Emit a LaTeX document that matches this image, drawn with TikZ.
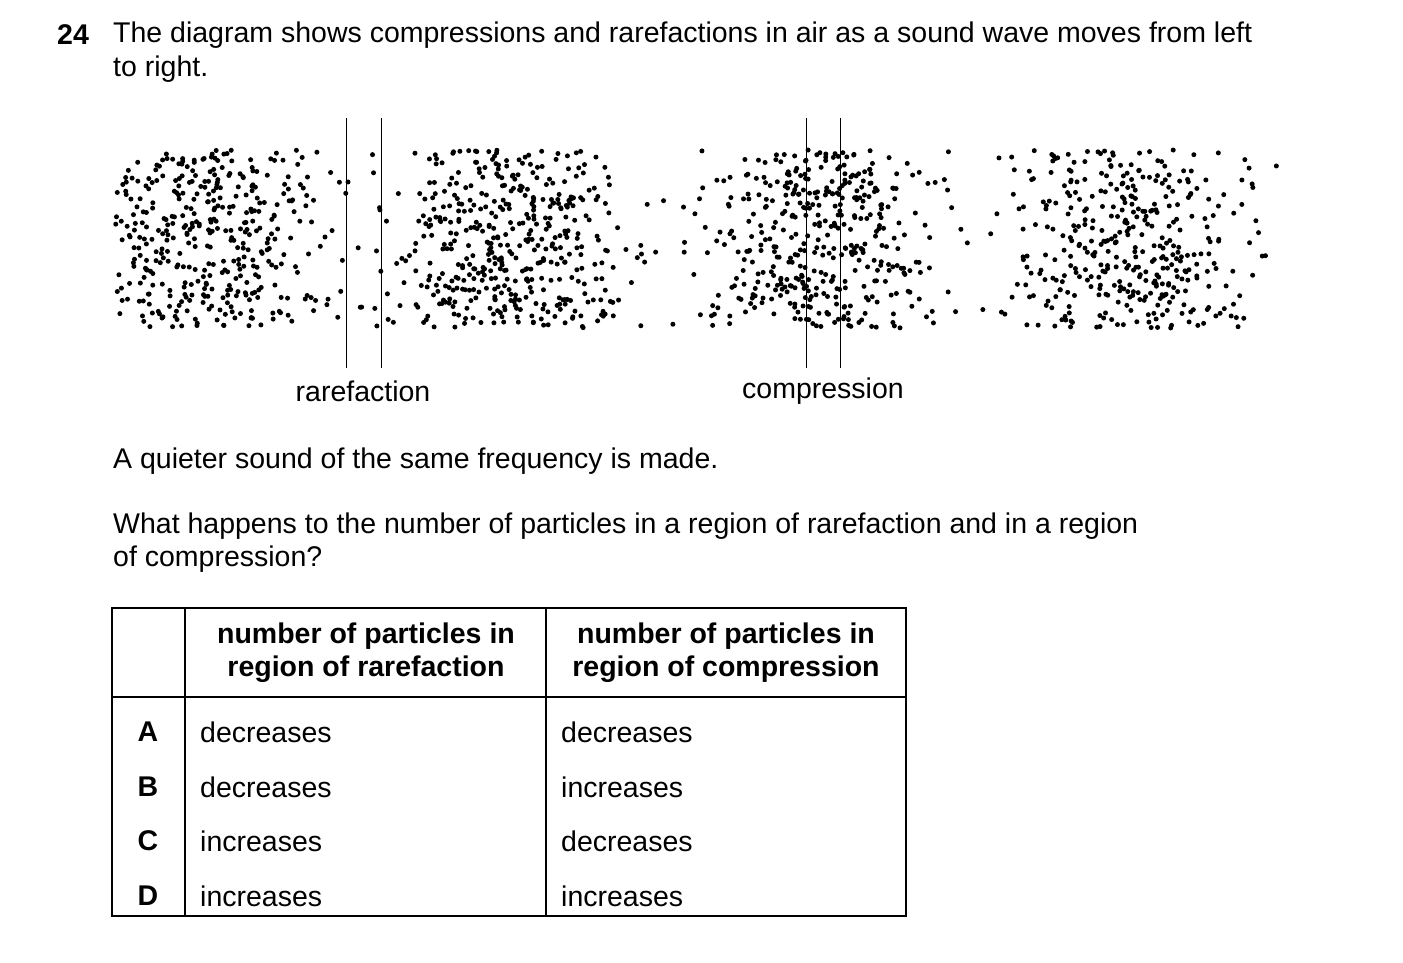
\documentclass[tikz,border=0pt]{standalone}
\usepackage{fontspec}
\setmainfont{Liberation Sans}
\usetikzlibrary{positioning}

\begin{document}
\begin{tikzpicture}[x=1pt,y=-1pt,
        txt/.style={anchor=west,inner sep=0pt,font=\fontsize{28.5}{33}\selectfont},
        hd/.style={align=center,inner sep=0pt,font=\fontsize{28.5}{33}\selectfont\bfseries},
        lbl/.style={inner sep=0pt,font=\fontsize{28.5}{33}\selectfont\bfseries},
        grid/.style={line width=1.2pt}]
        \useasboundingbox (0,0) rectangle (1403,963);

        \node[lbl,anchor=west] (num) at (57,35) {24};
        \node[txt] (t1) at (113,35) {The diagram shows compressions and rarefactions in air as a sound wave moves from left};
        \node[txt] (t2) at (113,69) {to right.};

        % particles
        \pgfmathsetseed{24}
        \foreach \i in {1,...,3000}{
            \pgfmathsetmacro\px{115+1175*rnd}
            \pgfmathsetmacro\py{150+178*rnd}
            \pgfmathsetmacro\pd{0.06+0.94*(0.5+0.5*cos((\px-200)*1.16129))}
            \pgfmathtruncatemacro\ok{rnd<\pd}
            \ifnum\ok=1 \fill (\px,\py) circle (2.5); \fi
        }

        \draw (346,118) -- (346,368);
        \draw (381,118) -- (381,368);
        \draw (806,118) -- (806,368);
        \draw (840,118) -- (840,368);
        \node[txt,anchor=center] (rare) at (363,391) {rarefaction};
        \node[txt,anchor=center] (comp) at (823,391) {compression};

        \node[txt] (q1) at (113,461) {A quieter sound of the same frequency is made.};
        \node[txt] (q2) at (113,526) {What happens to the number of particles in a region of rarefaction and in a region};
        \node[txt] (q3) at (113,559) {of compression?};

        % table
        \draw[grid] (112,608) rectangle (906,916);
        \draw[grid] (185,608) -- (185,916);
        \draw[grid] (546,608) -- (546,916);
        \draw[grid] (112,697) -- (906,697);
        \node[hd] (h1) at (366,653) {number of particles in\\region of rarefaction};
        \node[hd] (h2) at (726,653) {number of particles in\\region of compression};
        \foreach \y/\k/\a/\b in {732/A/decreases/decreases,787/B/decreases/increases,
                841/C/increases/decreases,896/D/increases/increases}{
            \node[lbl] at (148,\y) {\k};
            \node[txt] at (200,\y) {\a};
            \node[txt] at (561,\y) {\b};
        }
\end{tikzpicture}
\end{document}
